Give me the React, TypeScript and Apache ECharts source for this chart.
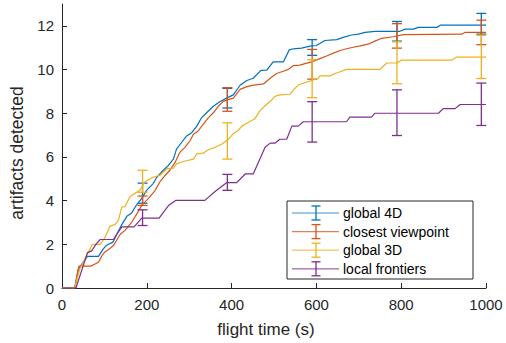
import React, { useEffect, useRef } from "react";
import * as echarts from "echarts";

// ---- data ----
const seriesNames = ["global 4D", "closest viewpoint", "global 3D", "local frontiers"];
const seriesColors = ["#0072BD", "#D95319", "#EDB120", "#7E2F8E"];

const tGlobal4D = [0, 30, 38, 60, 86, 97, 105, 120, 129, 141, 153, 164, 176, 188, 200, 215, 223, 239, 251, 263, 270, 282, 294, 306, 318, 329, 341, 357, 373, 388, 404, 420, 436, 451, 469, 483, 498, 522, 536, 546, 565, 585, 600, 620, 648, 663, 683, 699, 715, 738, 797, 809, 829, 840, 884, 892, 1000];
const vGlobal4D = [0, 0, 0.85, 1.45, 1.45, 1.78, 1.96, 2.1, 2.45, 2.9, 3.28, 3.43, 3.81, 4.1, 4.48, 4.78, 5.05, 5.39, 5.61, 5.91, 6.36, 6.66, 6.96, 7.11, 7.41, 7.79, 8.02, 8.32, 8.54, 8.69, 8.84, 9.28, 9.5, 9.6, 9.96, 9.97, 10.35, 10.35, 10.9, 10.95, 10.98, 11.07, 11.1, 11.33, 11.37, 11.47, 11.58, 11.62, 11.7, 11.75, 11.75, 11.85, 11.85, 11.93, 11.93, 12.03, 12.03];

const tClosest = [0, 30, 40, 68, 78, 86, 94, 101, 109, 121, 137, 149, 164, 176, 188, 204, 219, 231, 243, 255, 267, 278, 290, 302, 310, 321, 333, 345, 357, 369, 380, 392, 404, 420, 436, 451, 475, 491, 506, 522, 534, 546, 561, 573, 589, 608, 624, 640, 656, 671, 687, 703, 722, 738, 754, 781, 805, 943, 950, 1000];
const vClosest = [0, 0, 1.0, 1.0, 1.1, 1.18, 1.47, 1.65, 1.75, 1.93, 2.45, 2.65, 3.0, 3.38, 3.78, 4.1, 4.45, 4.86, 5.15, 5.4, 5.76, 6.21, 6.44, 6.74, 7.04, 7.19, 7.49, 7.79, 8.02, 8.32, 8.54, 8.62, 8.69, 9.09, 9.22, 9.29, 9.34, 9.6, 9.82, 9.92, 10.01, 10.18, 10.2, 10.27, 10.35, 10.5, 10.62, 10.75, 10.87, 10.95, 11.02, 11.08, 11.16, 11.3, 11.43, 11.5, 11.6, 11.62, 11.7, 11.7];

const tGlobal3D = [0, 30, 42, 62, 72, 90, 101, 113, 125, 133, 141, 149, 160, 184, 195, 212, 231, 247, 263, 270, 286, 310, 318, 333, 345, 361, 377, 392, 404, 416, 424, 439, 455, 467, 479, 495, 502, 514, 538, 546, 557, 569, 581, 593, 604, 608, 632, 644, 656, 671, 750, 766, 789, 801, 919, 931, 1000];
const vGlobal3D = [0, 0, 0.87, 1.62, 2.0, 2.0, 2.3, 2.83, 2.9, 3.1, 3.7, 3.73, 4.18, 4.48, 4.85, 5.05, 5.16, 5.46, 5.49, 5.68, 5.79, 5.9, 6.14, 6.17, 6.33, 6.44, 6.59, 6.8, 7.07, 7.22, 7.41, 7.58, 7.75, 8.12, 8.34, 8.62, 8.77, 8.84, 8.87, 9.07, 9.29, 9.37, 9.45, 9.52, 9.59, 9.71, 9.71, 9.82, 9.9, 10.01, 10.01, 10.3, 10.3, 10.43, 10.43, 10.57, 10.57];

const tLocal = [0, 33, 60, 70, 80, 90, 121, 141, 170, 188, 229, 252, 268, 337, 361, 388, 412, 432, 451, 479, 491, 502, 514, 530, 542, 557, 569, 671, 679, 730, 738, 888, 899, 927, 939, 1000];
const vLocal = [0, 0, 1.62, 1.7, 2.0, 2.22, 2.22, 2.8, 2.8, 3.2, 3.2, 3.79, 4.01, 4.01, 4.42, 4.82, 4.82, 5.22, 5.22, 6.44, 6.63, 6.63, 6.81, 6.81, 7.41, 7.41, 7.61, 7.61, 7.82, 7.82, 8.0, 8.0, 8.21, 8.21, 8.4, 8.4];

// error bars: time, low, high
const errTimes = [190, 390, 590, 790, 989];
const errLowGlobal4D = [3.88, 8.24, 10.65, 11.3, 11.62];
const errHighGlobal4D = [4.8, 9.14, 11.37, 12.2, 12.57];
const errLowClosest = [3.78, 8.09, 9.56, 10.98, 11.14];
const errHighClosest = [4.21, 9.17, 10.92, 12.1, 12.26];
const errLowGlobal3D = [4.38, 5.9, 8.71, 9.35, 9.59];
const errHighGlobal3D = [5.39, 7.56, 10.45, 11.27, 11.57];
const errLowLocal = [2.86, 4.47, 6.68, 6.98, 7.44];
const errHighLocal = [3.58, 5.2, 8.53, 9.07, 9.38];

const xTicks = [0, 200, 400, 600, 800, 1000];
const yTicks = [0, 2, 4, 6, 8, 10, 12];

const lineTimes = [tGlobal4D, tClosest, tGlobal3D, tLocal];
const lineValues = [vGlobal4D, vClosest, vGlobal3D, vLocal];
const errLows = [errLowGlobal4D, errLowClosest, errLowGlobal3D, errLowLocal];
const errHighs = [errHighGlobal4D, errHighClosest, errHighGlobal3D, errHighLocal];

const FONT = "'Liberation Sans', Arial, Helvetica, sans-serif";
const TXT = "#262626";

export default function App() {
  const ref = useRef<HTMLDivElement>(null);
  useEffect(() => {
    if (!ref.current) return;
    const chart = echarts.init(ref.current, undefined, { renderer: "svg" });

    const series: any[] = [];
    seriesNames.forEach((name, i) => {
      const color = seriesColors[i];
      series.push({
        name,
        type: "line",
        data: lineTimes[i].map((t, k) => [t, lineValues[i][k]]),
        showSymbol: false,
        symbol: "none",
        lineStyle: { color, width: 1.2 },
        itemStyle: { color },
        z: 2 + i,
      });
      series.push({
        name: name + " err",
        type: "custom",
        data: errTimes.map((t, k) => [t, errLows[i][k], errHighs[i][k]]),
        encode: { x: 0, y: [1, 2] },
        z: 2 + i,
        renderItem: (_p: any, api: any) => {
          const x = api.value(0);
          const lo = api.coord([x, api.value(1)]);
          const hi = api.coord([x, api.value(2)]);
          const w = 5;
          const st = { stroke: color, lineWidth: 1.3 };
          return {
            type: "group",
            children: [
              { type: "line", shape: { x1: lo[0], y1: lo[1], x2: hi[0], y2: hi[1] }, style: st },
              { type: "line", shape: { x1: lo[0] - w, y1: lo[1], x2: lo[0] + w, y2: lo[1] }, style: st },
              { type: "line", shape: { x1: hi[0] - w, y1: hi[1], x2: hi[0] + w, y2: hi[1] }, style: st },
            ],
          };
        },
      });
    });

    // legend drawn as graphic
    const lgX = 287, lgY = 201, lgW = 186, lgH = 78;
    const legendChildren: any[] = [
      { type: "rect", shape: { x: lgX, y: lgY, width: lgW, height: lgH }, style: { fill: "#fff", stroke: TXT, lineWidth: 1 } },
    ];
    seriesNames.forEach((name, i) => {
      const cy = lgY + 12 + i * 18.6;
      const color = seriesColors[i];
      legendChildren.push(
        { type: "line", shape: { x1: lgX + 5, y1: cy, x2: lgX + 52, y2: cy }, style: { stroke: color, lineWidth: 1.2, opacity: 0.75 } },
        { type: "line", shape: { x1: lgX + 29, y1: cy - 7, x2: lgX + 29, y2: cy + 7 }, style: { stroke: color, lineWidth: 1.3 } },
        { type: "line", shape: { x1: lgX + 24.5, y1: cy - 7, x2: lgX + 33.5, y2: cy - 7 }, style: { stroke: color, lineWidth: 1.3 } },
        { type: "line", shape: { x1: lgX + 24.5, y1: cy + 7, x2: lgX + 33.5, y2: cy + 7 }, style: { stroke: color, lineWidth: 1.3 } },
        { type: "text", x: lgX + 56, y: cy, style: { text: name, fill: "#000", font: `14px ${FONT}`, textVerticalAlign: "middle", verticalAlign: "middle" } }
      );
    });

    chart.setOption({
      animation: false,
      backgroundColor: "#fff",
      grid: { left: 62, right: 20, top: 4, bottom: 50, containLabel: false },
      xAxis: {
        type: "value",
        min: 0,
        max: 1000,
        interval: 200,
        name: "flight time (s)",
        nameLocation: "middle",
        nameGap: 33,
        nameTextStyle: { color: TXT, fontSize: 17, fontFamily: FONT, padding: [0, 16, 0, 0] },
        axisLine: { show: true, lineStyle: { color: TXT, width: 1 } },
        axisTick: { show: true, inside: true, length: 5, lineStyle: { color: TXT }, customValues: xTicks },
        axisLabel: { color: TXT, fontSize: 15, fontFamily: FONT, margin: 9, customValues: xTicks, formatter: (v: number) => String(v) },
        splitLine: { show: false },
      },
      yAxis: {
        type: "value",
        min: 0,
        max: 13,
        interval: 2,
        name: "artifacts detected",
        nameLocation: "middle",
        nameGap: 31,
        nameRotate: 90,
        nameTextStyle: { color: TXT, fontSize: 17.5, fontFamily: FONT, padding: [0, 14, 0, 0] },
        axisLine: { show: true, lineStyle: { color: TXT, width: 1 } },
        axisTick: { show: true, inside: true, length: 5, lineStyle: { color: TXT }, customValues: yTicks },
        axisLabel: { color: TXT, fontSize: 15, fontFamily: FONT, margin: 8, customValues: yTicks, formatter: (v: number) => String(v) },
        splitLine: { show: false },
      },
      series,
      graphic: [{ type: "group", z: 100, children: legendChildren }],
    });
    return () => chart.dispose();
  }, []);
  return (
    <div
      ref={ref}
      style={{ position: "fixed", left: 0, top: 0, width: 506, height: 343, background: "#fff" }}
    />
  );
}
